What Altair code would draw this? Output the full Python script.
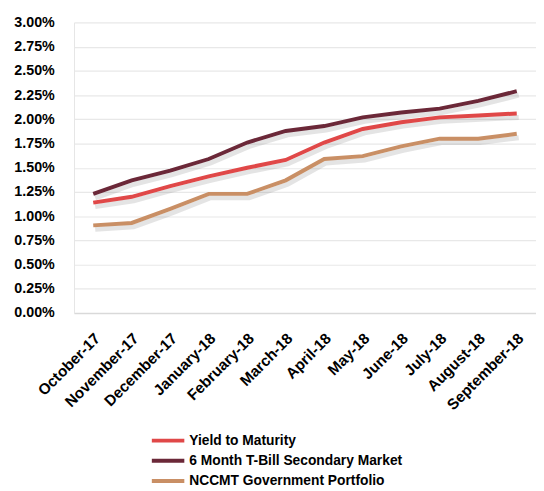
import altair as alt
import pandas as pd

months = ["October-17", "November-17", "December-17", "January-18", "February-18", "March-18",
          "April-18", "May-18", "June-18", "July-18", "August-18", "September-18"]
ytm = [1.14, 1.20, 1.31, 1.41, 1.50, 1.58, 1.76, 1.90, 1.97, 2.02, 2.04, 2.06]
tbill = [1.23, 1.37, 1.47, 1.59, 1.76, 1.88, 1.93, 2.02, 2.07, 2.11, 2.19, 2.29]
nccmt = [0.905, 0.93, 1.075, 1.23, 1.23, 1.37, 1.59, 1.62, 1.72, 1.80, 1.80, 1.85]

series = ["Yield to Maturity", "6 Month T-Bill Secondary Market", "NCCMT Government Portfolio"]
colors = ["#e04848", "#6b2838", "#c98f65"]

rows = []
for name, vals in zip(series, [ytm, tbill, nccmt]):
    for m, v in zip(months, vals):
        rows.append({"month": m, "series": name, "value": v / 100})
df = pd.DataFrame(rows)

FONT = "Liberation Sans, Arial, sans-serif"

x = alt.X("month:N", sort=months, title=None,
          scale=alt.Scale(type="point", padding=0.5),
          axis=alt.Axis(labelAngle=-45, labelFontSize=15.5, labelFontWeight="bold", labelFont=FONT,
                        labelColor="#000", ticks=False, domainColor="#d9d9d9", domainWidth=1.5,
                        labelPadding=18, labelOffset=-1, grid=False))
y = alt.Y("value:Q", title=None,
          scale=alt.Scale(domain=[0, 0.03], nice=False),
          axis=alt.Axis(format=".2%", values=[i * 0.0025 for i in range(13)],
                        labelFontSize=14.5, labelFontWeight="bold", labelFont=FONT, labelColor="#000",
                        ticks=False, domainColor="#e6e6e6", labelPadding=20,
                        gridColor="#e8e8e8", gridWidth=1.2))

shadow = alt.Chart(df).mark_line(strokeWidth=5, color="#555", opacity=0.16, xOffset=2, yOffset=4).encode(
    x=x, y=y, detail="series:N")

lines = alt.Chart(df).mark_line(strokeWidth=4).encode(
    x=x, y=y,
    color=alt.Color("series:N", sort=series,
                    scale=alt.Scale(domain=series, range=colors),
                    legend=alt.Legend(title=None, orient="none", legendX=85, legendY=414,
                                      symbolType="M-2,0H2", symbolSize=272, symbolStrokeWidth=4,
                                      labelFontSize=14, labelFontWeight="bold", labelFont=FONT,
                                      labelColor="#000", labelOffset=11, rowPadding=1.5, padding=0,
                                      labelLimit=400)))

chart = alt.layer(shadow, lines).properties(
    width=469, height=295,
    autosize=alt.AutoSizeParams(type="none"),
    padding={"left": 67, "top": 11, "right": 0, "bottom": 176},
).configure_view(stroke=None)

chart.save("out.html", embed_options={"renderer": "svg", "actions": False})
